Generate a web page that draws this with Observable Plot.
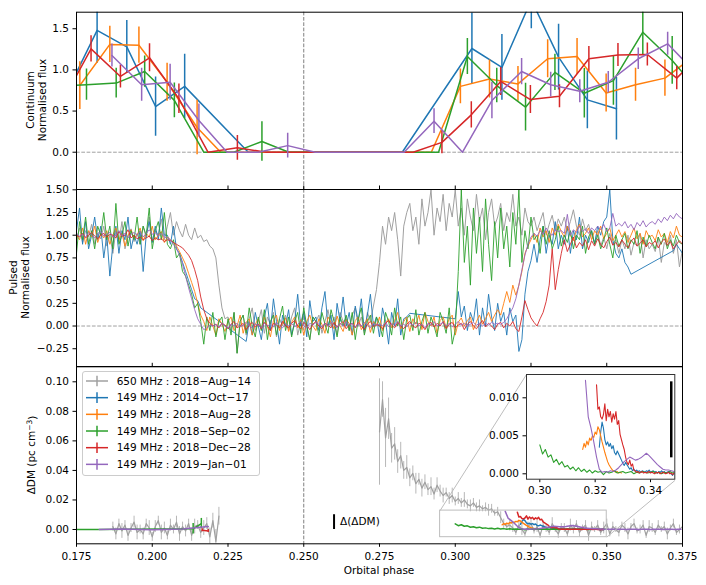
<!DOCTYPE html>
<html><head><meta charset="utf-8">
<script src="https://cdn.jsdelivr.net/npm/d3@7"></script>
<script src="https://cdn.jsdelivr.net/npm/@observablehq/plot@0.6"></script>
<style>
body{margin:0;background:#fff;}
#fig{position:relative;width:706px;height:585px;overflow:hidden;font-family:"DejaVu Sans",sans-serif;}
#fig svg{position:absolute;overflow:visible;}
</style></head><body><div id="fig"></div>
<script>
// ---------- names, colours, ticks ----------
const seriesNames = ["650 MHz : 2018\u2212Aug\u221214", "149 MHz : 2014\u2212Oct\u221217", "149 MHz : 2018\u2212Aug\u221228", "149 MHz : 2018\u2212Sep\u221202", "149 MHz : 2018\u2212Dec\u221228", "149 MHz : 2019\u2212Jan\u221201"];
const seriesColors = ["#a0a0a0", "#1f77b4", "#ff7f0e", "#2ca02c", "#d62728", "#9467bd"];
const xDomain = [0.175, 0.375];
const xTicks = [0.175, 0.2, 0.225, 0.25, 0.275, 0.3, 0.325, 0.35, 0.375];
const contYTicks = [0, 0.5, 1, 1.5];
const pulsedYTicks = [-0.25, 0, 0.25, 0.5, 0.75, 1, 1.25, 1.5];
const dmYTicks = [0, 0.02, 0.04, 0.06, 0.08, 0.10];
const insetXTicks = [0.30, 0.32, 0.34];
const insetYTicks = [0, 0.005, 0.010];
const eclipseCentre = 0.25;
const dDMBar = 0.01;

// ---------- continuum (top) ----------
const contBluePhase = [0.1721,0.1818,0.1916,0.2011,0.2107,0.2317,0.2825,0.3055,0.3154,0.3251,0.3341,0.3436,0.3532];
const contBlueFlux  = [0.75,1.48,1.28,0.555,0.80,0,0,1.26,1.03,1.85,1.155,0.636,0.527];
const contBlueErr   = [0,0.40,0.32,0.36,0.39,0,0,0.43,0.40,0.35,0.40,0.35,0.38];
const contOrangePhase = [0.1761,0.1860,0.1956,0.2049,0.2148,0.2226,0.2921,0.3017,0.3113,0.3207,0.3305,0.3402,0.3498,0.3595,0.3692,0.3789];
const contOrangeFlux  = [0.81,1.31,1.30,0.85,0.30,0,0,0.80,0.89,0.83,1.135,1.163,0.72,0.82,0.90,1.17];
const contOrangeErr   = [0.29,0.22,0.22,0.23,0.33,0,0,0.21,0.23,0.21,0.23,0.22,0.23,0.20,0.22,0.20];
const contGreenPhase = [0.1686,0.1783,0.1881,0.1975,0.2073,0.2170,0.2269,0.2362,0.2451,0.2945,0.3040,0.3137,0.3232,0.3329,0.3426,0.3522,0.3619,0.3716,0.3813];
const contGreenFlux  = [0.80,0.82,0.84,0.98,0.63,0,0,0.13,0,0,1.163,0.81,0.547,0.97,0.717,0.87,1.458,1.115,0.70];
const contGreenErr   = [0.20,0.19,0.18,0.19,0.21,0,0,0.24,0,0,0.22,0.21,0.29,0.22,0.30,0.30,0.27,0.29,0.20];
const contRedPhase = [0.1701,0.1798,0.1895,0.1991,0.2088,0.2184,0.2281,0.2377,0.2861,0.2956,0.3053,0.3150,0.3248,0.3344,0.3441,0.3537,0.3634,0.3731,0.3828];
const contRedFlux  = [0.60,1.256,0.92,1.147,0.65,0,0.053,0,0,0.12,0.454,0.86,0.64,0.68,1.135,1.18,1.187,0.90,1.26];
const contRedErr   = [0.15,0.16,0.14,0.17,0.18,0,0.15,0,0,0.14,0.16,0.17,0.17,0.14,0.15,0.14,0.14,0.14,0.15];
const contPurplePhase = [0.1867,0.1965,0.2059,0.2154,0.2247,0.2350,0.2447,0.2538,0.2831,0.2930,0.3024,0.3121,0.3219,0.3315,0.3411,0.3505,0.3604,0.3701,0.3798];
const contPurpleFlux  = [1.175,0.82,0.85,0.385,0,0,0.08,0,0,0.377,0,0.628,0.98,0.82,0.74,0.85,1.135,1.317,0.95];
const contPurpleErr   = [0.14,0.20,0.22,0.20,0,0,0.15,0,0,0.15,0,0.22,0.16,0.15,0.14,0.13,0.13,0.14,0.15];

// ---------- pulsed (middle), sampled from phase 0.175 every 0.001 ----------
const pulsedStart = 0.175, pulsedStep = 0.001;
const pulsedGray = [
0.95,1.08,0.92,1.05,0.98,1.12,0.90,1.02,0.96,1.10,
0.88,1.00,0.80,1.05,0.92,1.15,0.85,0.98,1.07,0.93,
1.02,0.90,1.10,0.97,1.20,0.94,1.05,1.00,1.18,0.95,
1.10,1.25,1.00,1.15,1.05,0.98,1.12,1.00,0.95,1.08,
0.97,1.00,0.93,0.95,0.88,0.85,0.75,0.45,0.20,0.08,
0.10,-0.05,0.15,-0.30,0.05,0.12,-0.10,0.08,0.20,-0.05,
0.05,0.18,-0.08,0.10,0.02,0.15,-0.12,0.08,0.00,0.12,
-0.05,0.10,0.20,-0.10,0.05,0.15,0.00,-0.15,0.10,0.05,
0.12,-0.08,0.05,0.18,0.00,0.10,-0.10,0.15,0.05,0.08,
-0.05,0.12,0.20,0.00,0.10,-0.08,0.15,0.05,0.22,0.40,
0.70,1.10,0.90,1.20,1.05,1.25,0.95,0.55,1.10,1.25,
1.35,1.05,1.20,0.90,1.40,1.10,1.25,1.50,1.00,1.30,
1.15,1.45,1.05,1.35,1.20,1.50,1.10,1.30,1.00,1.40,
1.20,1.05,1.45,1.15,1.30,0.95,1.25,1.40,1.10,1.20,
1.35,1.05,1.25,1.15,1.45,1.10,1.20,1.00,1.30,1.15,
1.10,1.20,1.05,1.15,1.25,1.00,1.12,1.22,1.05,1.18,
1.10,1.20,1.05,1.15,1.28,1.10,1.00,1.18,1.05,1.12,
1.00,0.92,1.05,0.88,0.98,0.85,1.02,0.90,0.95,0.80,
0.95,0.85,1.00,0.78,0.92,0.88,1.02,0.75,0.95,0.85,
0.90,0.82,0.98,0.70,0.92,0.88,1.00,0.80,0.95,0.65,
0.85];
const pulsedBlue = [
1.05,1.30,0.90,1.15,0.85,1.00,1.20,0.95,1.10,0.75,
1.00,0.55,0.90,1.10,0.80,1.05,0.95,1.20,0.85,1.00,
0.90,1.05,0.60,1.00,1.15,0.92,1.10,0.95,1.30,1.00,
1.00,0.90,1.10,0.85,0.80,0.70,0.60,0.50,0.40,0.30,
0.28,0.20,null,null,null,null,null,null,null,null,
null,null,null,null,null,null,-0.17,0.05,-0.10,0.15,
0.00,-0.15,0.10,0.25,-0.05,0.30,0.05,-0.20,0.12,0.00,
0.18,-0.10,0.05,0.35,0.00,0.15,-0.12,0.28,0.05,0.10,
-0.05,0.20,0.38,0.00,0.12,-0.15,0.25,0.05,0.32,0.00,
0.15,-0.10,0.22,0.05,0.30,-0.05,0.12,0.35,0.00,0.10,
-0.12,0.20,0.05,-0.20,0.15,0.00,0.30,-0.10,0.08,0.10,
0.14,null,null,null,null,null,null,null,null,null,
null,null,null,null,null,0.08,0.38,0.10,0.22,-0.05,
0.15,0.05,0.30,-0.10,0.20,0.00,0.35,0.10,-0.05,0.25,
0.05,0.15,-0.10,0.20,0.05,0.12,-0.28,-0.15,0.35,0.60,
0.72,0.90,0.70,0.95,1.10,0.80,1.00,0.90,1.15,0.85,
1.00,0.90,1.10,0.80,1.05,0.95,1.20,0.85,1.00,0.92,
1.05,0.90,1.10,1.00,1.15,1.20,1.50,0.95,0.80,0.75,
0.85,0.70,0.65,0.57,null,null,null,null,null,null,
null,null,null,null,null,null,null,0.83,0.90,0.85,
0.80];
const pulsedOrange = [
1.00,0.95,1.08,0.90,1.05,0.98,1.10,0.92,1.02,0.97,
1.05,0.90,1.00,1.08,0.95,1.02,0.88,1.00,1.06,0.96,
1.00,1.08,0.94,1.02,0.98,1.10,0.95,1.00,1.04,0.92,
0.98,0.95,0.92,0.88,0.82,0.75,0.68,0.58,0.48,0.38,
0.25,0.12,0.05,-0.05,0.10,0.00,-0.10,0.08,0.02,-0.06,
0.05,0.10,-0.05,0.00,0.12,-0.08,0.04,0.08,-0.10,0.02,
0.08,-0.04,0.10,0.00,-0.12,0.06,0.12,-0.05,0.03,0.09,
-0.06,0.04,0.10,-0.02,0.07,-0.10,0.05,0.12,0.00,-0.05,
0.08,0.02,-0.08,0.10,0.04,-0.03,0.11,0.00,-0.06,0.07,
0.03,-0.10,0.06,0.10,-0.04,0.02,0.08,-0.07,0.05,0.00,
0.10,-0.05,0.04,0.08,-0.02,0.06,0.15,-0.03,0.05,0.10,
-0.06,0.08,0.02,0.12,-0.04,0.15,0.05,0.00,0.10,-0.08,
0.06,0.10,-0.02,0.08,0.12,-0.10,0.04,0.09,0.00,0.06,
0.10,-0.04,0.05,0.12,0.02,0.08,0.15,0.05,0.12,0.18,
0.12,0.25,0.38,0.26,0.45,0.34,0.45,0.60,0.80,0.88,
0.95,1.02,0.92,1.08,0.98,1.05,0.92,1.08,1.00,1.12,
1.04,0.98,1.10,1.00,0.94,1.06,1.12,0.98,1.02,1.08,
0.95,1.05,1.00,1.10,0.96,1.02,1.08,0.94,1.00,1.06,
0.98,1.04,0.92,1.00,1.08,0.96,1.02,0.90,1.05,0.98,
1.00,0.94,1.06,0.98,1.02,0.92,1.04,0.97,1.10,1.00,
0.98];
const pulsedGreen = [
0.80,1.15,0.95,1.20,0.90,1.05,0.85,1.10,1.00,1.25,
0.95,1.10,0.85,1.35,0.90,1.00,1.15,0.88,1.05,0.95,
1.20,0.90,1.10,1.00,1.30,0.85,1.05,1.15,0.95,1.25,
0.90,0.85,0.95,0.75,0.80,0.60,0.55,0.45,0.35,0.20,
0.25,0.05,-0.20,0.10,-0.05,0.15,-0.12,0.05,0.10,-0.15,
0.08,-0.10,0.15,-0.30,0.05,0.12,-0.08,0.20,0.00,-0.12,
0.10,-0.05,0.18,-0.15,0.05,0.12,-0.10,0.08,0.22,-0.05,
0.10,-0.12,0.05,0.15,-0.08,0.20,0.00,-0.15,0.10,0.05,
-0.10,0.15,0.02,-0.08,0.18,0.05,-0.12,0.10,0.00,0.12,
-0.05,0.15,-0.15,0.08,0.20,-0.10,0.05,0.12,-0.08,0.10,
0.02,-0.12,0.15,0.05,-0.10,0.20,0.00,0.10,-0.15,0.08,
0.12,-0.05,0.18,-0.10,0.05,0.15,-0.08,0.10,0.00,-0.12,
0.15,0.05,-0.08,0.20,-0.20,-0.05,0.60,1.50,0.70,1.10,
0.45,1.30,0.80,1.20,0.60,1.40,0.90,0.50,1.15,0.75,
1.30,0.85,1.10,0.65,1.25,0.90,1.50,0.70,1.05,0.85,
1.20,0.95,1.00,0.80,1.10,0.90,1.05,0.85,0.95,1.10,
0.88,1.00,0.92,1.05,0.85,1.00,0.95,1.10,0.80,0.98,
1.05,0.90,1.00,0.85,0.95,1.08,0.90,0.75,1.00,0.88,
0.95,1.02,0.85,0.95,0.90,1.05,0.80,0.98,0.88,1.00,
0.92,0.85,0.98,0.90,1.02,0.85,0.95,0.88,1.00,0.92,
0.90];
const pulsedRed = [
1.00,0.98,1.02,0.97,1.00,1.03,0.99,0.96,1.00,1.02,
0.98,1.01,1.00,0.97,1.04,0.99,1.00,1.06,0.97,1.00,
0.96,0.98,0.95,0.97,0.99,0.94,0.97,0.95,0.96,0.93,
0.95,0.94,0.92,0.90,0.88,0.86,0.82,0.78,0.72,0.62,
0.50,0.32,0.18,0.08,0.03,0.00,0.02,-0.02,0.03,0.01,
-0.03,0.02,0.05,-0.02,0.00,0.03,-0.04,0.01,0.04,-0.01,
0.02,-0.03,0.04,0.00,-0.05,0.03,0.01,-0.02,0.05,0.00,
-0.02,0.03,0.06,0.00,-0.03,0.04,0.01,-0.04,0.02,0.05,
0.00,-0.03,0.03,0.01,-0.02,0.04,-0.01,0.02,0.05,-0.03,
0.01,0.03,-0.02,0.04,0.00,-0.04,0.02,0.05,-0.01,0.02,
0.00,-0.03,0.03,0.06,0.01,-0.02,0.04,0.00,-0.03,0.02,
0.05,0.00,-0.02,0.03,0.01,-0.04,0.02,0.04,-0.01,0.03,
0.00,0.05,-0.03,0.02,0.04,-0.02,0.01,0.03,-0.04,0.02,
0.05,0.00,-0.03,0.02,0.06,-0.01,0.03,0.00,-0.04,0.02,
0.04,-0.02,0.03,0.00,0.05,-0.03,-0.06,0.10,0.28,0.18,
0.09,0.04,0.00,0.08,0.15,0.27,0.45,0.85,0.40,0.62,
0.80,0.95,0.82,0.90,0.98,0.86,0.92,0.88,0.95,0.84,
0.94,0.88,0.96,0.90,0.86,0.93,0.98,0.89,0.92,0.87,
0.95,0.90,0.86,0.93,0.97,0.88,0.91,0.95,0.87,0.92,
0.90,0.94,0.86,0.92,0.96,0.89,0.93,0.85,0.90,0.94,
0.90];
const pulsedPurple = [
1.02,0.99,1.01,0.98,1.03,1.00,0.97,1.02,1.04,0.99,
1.01,1.03,0.98,1.00,1.05,0.99,1.02,0.97,1.01,1.03,
1.00,1.04,0.98,1.02,1.06,1.01,1.03,0.99,1.02,0.98,
0.97,0.95,0.90,0.85,0.78,0.68,0.55,0.42,0.30,0.18,
0.08,0.02,-0.04,-0.02,0.01,0.00,0.02,-0.01,0.03,0.00,
-0.02,0.02,0.00,0.03,-0.01,0.01,0.04,0.00,-0.02,0.02,
0.01,-0.02,0.03,0.00,0.02,-0.01,0.04,0.01,-0.02,0.02,
0.00,0.03,-0.01,0.02,0.05,0.00,-0.02,0.03,0.01,0.04,
0.02,-0.01,0.03,0.00,0.04,0.01,-0.02,0.03,0.00,0.05,
0.01,0.03,-0.01,0.02,0.00,0.04,0.01,-0.02,0.03,0.01,
0.02,0.00,0.04,-0.01,0.03,0.01,0.05,0.00,0.02,-0.01,
0.03,0.01,0.04,0.00,0.02,-0.02,0.03,0.01,0.05,0.00,
0.02,0.04,0.00,0.03,-0.01,0.02,0.05,0.01,0.03,0.00,
0.02,0.04,0.01,0.03,0.00,0.03,0.01,0.04,0.02,0.03,
0.02,0.04,0.08,0.14,0.20,0.30,0.45,0.62,0.78,0.90,
0.98,1.02,0.99,1.05,1.01,1.08,1.02,1.00,1.06,1.04,
1.05,1.02,1.23,1.00,1.06,1.03,1.10,1.04,1.07,1.02,
1.08,1.05,1.10,1.06,1.12,1.04,1.08,1.24,1.10,1.13,
1.10,1.15,1.08,1.12,1.06,1.14,1.10,1.16,1.09,1.13,
1.15,1.12,1.18,1.14,1.20,1.16,1.22,1.18,1.24,1.20,
1.18];

// ---------- ΔDM (bottom) ----------
const dmGrayLeftStart = 0.187, dmGrayRightStart = 0.275, dmGrayStep = 0.001;
const dmGrayLeft = [
0.002,-0.003,0.004,-0.001,0.003,-0.004,0.001,0.005,-0.002,0.000,
-0.003,0.004,0.001,-0.005,0.002,0.006,-0.002,0.001,-0.004,0.003,
0.000,0.005,-0.003,0.002,-0.001,0.004,-0.004,0.002,0.003,-0.002,
0.001,0.004,-0.005,0.006,-0.008,0.009];
const dmGrayLeftErr = [
0.003,0.004,0.003,0.005,0.003,0.004,0.003,0.004,0.005,0.003,
0.004,0.003,0.005,0.003,0.004,0.003,0.005,0.004,0.003,0.004,
0.003,0.004,0.005,0.003,0.004,0.003,0.004,0.005,0.003,0.004,
0.005,0.004,0.006,0.005,0.008,0.006];
const dmGrayRight = [
0.066,0.088,0.062,0.075,0.055,0.058,0.046,0.050,0.040,0.042,
0.035,0.038,0.031,0.034,0.028,0.032,0.027,0.029,0.024,0.030,
0.026,0.023,0.025,0.021,0.023,0.019,0.021,0.018,0.020,0.017,
0.016,0.018,0.015,0.016,0.014,0.015,0.013,0.014,0.011,0.012,
0.008,0.004,0.002,0.003,0.001,-0.002,0.003,0.000,-0.003,0.002,
0.004,-0.001,0.002,-0.004,0.003,0.001,-0.002,0.004,0.000,-0.003,
0.002,0.001,-0.003,0.003,0.000,0.004,-0.002,0.001,0.003,-0.004,
0.002,0.000,0.003,-0.002,0.001,0.004,-0.003,0.002,0.000,-0.002,
0.003,0.001,-0.003,0.002,0.004,-0.001,0.000,0.003,-0.004,0.002,
0.001,-0.002,0.003,0.000,0.002,-0.003,0.001,0.004,-0.002,0.000,
0.002];
const dmGrayRightErr = [
0.036,0.012,0.020,0.014,0.010,0.011,0.008,0.009,0.006,0.008,
0.006,0.005,0.007,0.004,0.006,0.005,0.004,0.006,0.004,0.005,
0.004,0.005,0.003,0.004,0.005,0.003,0.004,0.003,0.005,0.003,
0.004,0.003,0.003,0.004,0.002,0.003,0.004,0.003,0.002,0.003,
0.004,0.003,0.002,0.004,0.003,0.002,0.003,0.004,0.002,0.003,
0.003,0.002,0.004,0.002,0.003,0.003,0.002,0.004,0.002,0.003,
0.002,0.003,0.002,0.004,0.003,0.002,0.003,0.002,0.003,0.004,
0.003,0.002,0.003,0.002,0.004,0.003,0.002,0.003,0.002,0.003,
0.002,0.003,0.004,0.002,0.003,0.002,0.003,0.003,0.002,0.004,
0.003,0.002,0.003,0.002,0.003,0.004,0.002,0.003,0.002,0.003,
0.003];
// early (pre-eclipse) 149 MHz ΔDM points
const dmEarlyGreenPhase = [0.175,0.1785,0.182,0.2135,0.2162];
const dmEarlyGreen      = [0,0,0,0.0005,0.004];
const dmEarlyGreenErr   = [0,0,0,0.0035,0.0035];
const dmEarlyPurplePhase = [0.1825,0.19,0.2,0.21,0.2185];
const dmEarlyPurple      = [0,0.0003,-0.0002,0.0004,0.002];
const dmEarlyRedPhase = [0.2165,0.2185];
const dmEarlyRed      = [-0.0005,-0.001];
const dmEarlyRedErr   = [0.001,0.001];
// egress 149 MHz ΔDM
const dmGreenStart = 0.300, dmGreenStep = 0.001;
const dmGreen = [
0.0038,0.0026,0.0032,0.0022,0.0025,0.0015,0.0019,0.0012,0.0016,0.0009,
0.0011,0.0006,0.0009,0.0004,0.0008,0.0003,0.0006,0.0002,0.0005,0.0001,
0.0004,0.0002,0.0003,-0.0001,0.0003,0.0001,0.0002,0.0004,0.0001,0.0002,
0.0003,0.0001,0.0002,0.0003,0.0000,0.0002,0.0001,0.0003,0.0002,0.0001,
0.0002,0.0003,0.0001,0.0002,0.0000,0.0002,0.0001,0.0003,0.0001,0.0002,
0.0001];
const dmOrangeStart = 0.3155, dmOrangeStep = 0.0005;
const dmOrange = [
0.0032,0.0040,0.0035,0.0043,0.0038,0.0047,0.0044,0.0050,0.0048,0.0055,
0.0052,0.0062,0.0058,0.0050,0.0042,0.0035,0.0028,0.0022,0.0016,0.0012,
0.0009,0.0006,0.0004,0.0003,0.0002,0.0003,0.0001,0.0002,0.0001];
const dmRedStart = 0.3205, dmRedStep = 0.0005;
const dmRed = [
0.0117,0.0085,0.0088,0.0075,0.0072,0.0078,0.0092,0.0070,0.0085,0.0075,
0.0082,0.0068,0.0079,0.0072,0.0082,0.0065,0.0070,0.0052,0.0045,0.0038,
0.0032,0.0022,0.0015,0.0012,0.0018,0.0010,0.0013,0.0005,0.0004,0.0002,
0.0003,0.0001,0.0002,0.0003,0.0001,0.0002,0.0001,0.0002,0.0003,0.0001,
0.0002,0.0001,0.0000,0.0002,0.0001,0.0002,0.0000,0.0001,0.0002,0.0001,
0.0000,0.0001,0.0002,0.0000,0.0001,-0.0001,0.0001,0.0000];
const dmBlueStart = 0.3215, dmBlueStep = 0.0005;
const dmBlue = [
0.0035,0.0055,0.0068,0.0060,0.0045,0.0038,0.0042,0.0036,0.0040,0.0033,
0.0037,0.0028,0.0025,0.0030,0.0026,0.0022,0.0018,0.0014,0.0011,0.0015,
0.0012,0.0009,0.0006,0.0008,0.0004,0.0006,0.0003,0.0005,0.0003,0.0004,
0.0002,0.0004,0.0003,0.0002,0.0004,0.0003,0.0005,0.0002,0.0003,0.0004,
0.0002,0.0003,0.0001,0.0003,0.0002,0.0004,0.0002,0.0003,0.0001,0.0002,
0.0003,0.0001,0.0000,-0.0002,0.0001,-0.0001];
const dmPurpleStart = 0.3165, dmPurpleStep = 0.001;
const dmPurple = [
0.0123,0.0075,0.0060,0.0042,0.0022,0.0006,0.0002,0.0003,0.0002,0.0004,
0.0003,0.0005,0.0008,0.0012,0.0016,0.0019,0.0022,0.0020,0.0018,0.0019,
0.0021,0.0024,0.0027,0.0024,0.0020,0.0016,0.0012,0.0009,0.0006,0.0005,
0.0005,0.0004,0.0003,0.0002,0.0002,0.0001,0.0002,0.0001,0.0002,0.0001,
0.0000,0.0001,0.0002,0.0001,0.0000,0.0001,0.0002,0.0001,0.0000,0.0001,
0.0002,0.0001,0.0000,0.0001,0.0002,0.0001,0.0000,0.0001,0.0001];

// zoom indicator (data coords of the main ΔDM panel) and inset limits
const zoomBox = [{x1: 0.295, x2: 0.35, y1: -0.0052, y2: 0.0128}];
const zoomLinks = [{x1: 0.295, y1: 0.0128, x2: 0.3235, y2: 0.1049}, {x1: 0.35, y1: -0.0052, x2: 0.3725, y2: 0.0332}];
const insetXDomain = [0.29519, 0.34878];
const insetYDomain = [-0.00071, 0.013066];
const barMain = [{x: 0.26, y1: 0, y2: dDMBar}];
const barInset = [{x: 0.3475, y1: 0.0021, y2: 0.0021 + dDMBar}];

// ---------- helpers ----------
const FONT = '"DejaVu Sans", sans-serif';
const style = {fontFamily: FONT, fontSize: "10.5px", background: "transparent", color: "black", overflow: "visible"};
const fig = document.getElementById("fig");
function place(svg, top, left) { svg.style.top = top + "px"; svg.style.left = left + "px"; fig.appendChild(svg); }
const grid = (start, step, vals, errs) => vals.map((v, i) => ({phase: start + i * step, value: v, err: errs ? errs[i] : 0})).filter(d => d.value !== null);
const zipS = (ph, vals, errs) => ph.map((p, i) => ({phase: p, value: vals[i], err: errs ? errs[i] : 0}));
const dashV = Plot.ruleX([eclipseCentre], {stroke: "#7f7f7f", strokeDasharray: "3.7,1.6", strokeWidth: 1});
const dashH = Plot.ruleY([0], {stroke: "#a0a0a0", strokeDasharray: "3.7,1.6", strokeWidth: 1});
const L = 76, Rm = 24, W = 706, PH = 177.3;

// ---------- panel 1: continuum ----------
const contSeries = [
  [zipS(contBluePhase, contBlueFlux, contBlueErr), 1],
  [zipS(contOrangePhase, contOrangeFlux, contOrangeErr), 2],
  [zipS(contGreenPhase, contGreenFlux, contGreenErr), 3],
  [zipS(contRedPhase, contRedFlux, contRedErr), 4],
  [zipS(contPurplePhase, contPurpleFlux, contPurpleErr), 5]
];
const p1marks = [dashH, dashV];
for (const [data, ci] of contSeries) {
  p1marks.push(Plot.line(data, {x: "phase", y: "value", stroke: seriesColors[ci], strokeWidth: 1.5, clip: true}));
  p1marks.push(Plot.ruleX(data.filter(d => d.err > 0), {x: "phase", y1: d => d.value - d.err, y2: d => d.value + d.err, stroke: seriesColors[ci], strokeWidth: 1.5, clip: true}));
}
p1marks.push(Plot.tickX(xTicks, {x: d => d, insetTop: PH - 3.5, stroke: "black", strokeWidth: 1}));
p1marks.push(Plot.frame({stroke: "black", strokeWidth: 1}));
const p1 = Plot.plot({
  width: W, height: 189, marginLeft: L, marginRight: Rm, marginTop: 11.7, marginBottom: 0, style,
  x: {domain: xDomain, axis: null},
  y: {domain: [-0.453, 1.701], ticks: contYTicks, tickFormat: d3.format(".1f"), tickSize: 3.5, tickPadding: 4, label: null},
  marks: p1marks
});
place(p1, 0, 0);

// ---------- panel 2: pulsed ----------
const pulsedSeries = [[pulsedGray, 0], [pulsedBlue, 1], [pulsedOrange, 2], [pulsedGreen, 3], [pulsedRed, 4], [pulsedPurple, 5]];
const p2marks = [dashH, dashV];
for (const [vals, ci] of pulsedSeries) {
  p2marks.push(Plot.line(grid(pulsedStart, pulsedStep, vals), {x: "phase", y: "value", stroke: seriesColors[ci], strokeWidth: 1, strokeOpacity: ci === 0 ? 1 : 0.9, clip: true}));
}
p2marks.push(Plot.tickX(xTicks, {x: d => d, insetTop: PH - 3.5, stroke: "black", strokeWidth: 1}));
p2marks.push(Plot.frame({stroke: "black", strokeWidth: 1}));
const p2 = Plot.plot({
  width: W, height: PH, marginLeft: L, marginRight: Rm, marginTop: 0, marginBottom: 0, style,
  x: {domain: xDomain, axis: null},
  y: {domain: [-0.449, 1.5033], ticks: pulsedYTicks, tickFormat: d3.format(".2f"), tickSize: 3.5, tickPadding: 4, label: null},
  marks: p2marks
});
place(p2, 189, 0);

// ---------- panel 3: ΔDM ----------
const grayL = grid(dmGrayLeftStart, dmGrayStep, dmGrayLeft, dmGrayLeftErr);
const grayR = grid(dmGrayRightStart, dmGrayStep, dmGrayRight, dmGrayRightErr);
const lateSeries = [
  [grid(dmBlueStart, dmBlueStep, dmBlue), 1],
  [grid(dmOrangeStart, dmOrangeStep, dmOrange), 2],
  [grid(dmGreenStart, dmGreenStep, dmGreen), 3],
  [grid(dmRedStart, dmRedStep, dmRed), 4],
  [grid(dmPurpleStart, dmPurpleStep, dmPurple), 5]
];
const earlySeries = [
  [zipS(dmEarlyGreenPhase, dmEarlyGreen, dmEarlyGreenErr), 3],
  [zipS(dmEarlyRedPhase, dmEarlyRed, dmEarlyRedErr), 4],
  [zipS(dmEarlyPurplePhase, dmEarlyPurple), 5]
];
const p3marks = [dashV];
for (const g of [grayL, grayR]) {
  p3marks.push(Plot.ruleX(g, {x: "phase", y1: d => d.value - d.err, y2: d => d.value + d.err, stroke: seriesColors[0], strokeWidth: 0.9, strokeOpacity: 0.85, clip: true}));
  p3marks.push(Plot.line(g, {x: "phase", y: "value", stroke: seriesColors[0], strokeWidth: 1.2, clip: true}));
}
for (const [data, ci] of earlySeries) {
  p3marks.push(Plot.line(data, {x: "phase", y: "value", stroke: seriesColors[ci], strokeWidth: 1.5, clip: true}));
  p3marks.push(Plot.ruleX(data.filter(d => d.err > 0), {x: "phase", y1: d => d.value - d.err, y2: d => d.value + d.err, stroke: seriesColors[ci], strokeWidth: 1.5}));
}
for (const [data, ci] of lateSeries) {
  p3marks.push(Plot.line(data, {x: "phase", y: "value", stroke: seriesColors[ci], strokeWidth: 1.5, clip: true}));
}
p3marks.push(Plot.rect(zoomBox, {x1: "x1", x2: "x2", y1: "y1", y2: "y2", fill: "none", stroke: "#bdbdbd", strokeWidth: 1}));
p3marks.push(Plot.link(zoomLinks, {x1: "x1", y1: "y1", x2: "x2", y2: "y2", stroke: "#bdbdbd", strokeWidth: 1}));
p3marks.push(Plot.ruleX(barMain, {x: "x", y1: "y1", y2: "y2", stroke: "black", strokeWidth: 2}));
p3marks.push(Plot.text(barMain, {x: "x", y: d => (d.y1 + d.y2) / 2, text: () => "\u0394(\u0394DM)", textAnchor: "start", dx: 6, fontSize: 10.5}));
p3marks.push(Plot.frame({stroke: "black", strokeWidth: 1}));
const p3 = Plot.plot({
  width: W, height: 219, marginLeft: L, marginRight: Rm, marginTop: 0, marginBottom: 219 - PH, style,
  x: {domain: xDomain, ticks: xTicks, tickFormat: d3.format(".3f"), tickSize: 3.5, tickPadding: 5, label: null},
  y: {domain: [-0.00968, 0.11036], ticks: dmYTicks, tickFormat: d3.format(".2f"), tickSize: 3.5, tickPadding: 4, label: null},
  marks: p3marks
});
place(p3, 366, 0);

// ---------- inset ----------
const insetMarks = [Plot.frame({fill: "white", stroke: null})];
for (const [data, ci] of lateSeries) {
  insetMarks.push(Plot.line(data, {x: "phase", y: "value", stroke: seriesColors[ci], strokeWidth: 1.1, clip: true}));
}
insetMarks.push(Plot.ruleX(barInset, {x: "x", y1: "y1", y2: "y2", stroke: "black", strokeWidth: 2.5}));
insetMarks.push(Plot.frame({stroke: "#333", strokeWidth: 1}));
const inset = Plot.plot({
  width: 215, height: 140, marginLeft: 60, marginRight: 6.7, marginTop: 14, marginBottom: 21.3, style,
  x: {domain: insetXDomain, ticks: insetXTicks, tickFormat: d3.format(".2f"), tickSize: 3.5, tickPadding: 4, label: null},
  y: {domain: insetYDomain, ticks: insetYTicks, tickFormat: d3.format(".3f"), tickSize: 3.5, tickPadding: 4, label: null},
  marks: insetMarks
});
place(inset, 360, 466);

// ---------- overlay: axis titles and legend ----------
const ov = d3.create("svg").attr("width", 706).attr("height", 585)
  .style("font-family", FONT).style("font-size", "10.5px").style("pointer-events", "none");
function vlabel(x, y, txt) {
  return ov.append("text").attr("transform", `translate(${x},${y}) rotate(-90)`).attr("text-anchor", "middle").attr("fill", "black").text(txt);
}
vlabel(33.5, 100, "Continuum");
vlabel(45.5, 100, "Normalised flux");
vlabel(16.7, 277.5, "Pulsed");
vlabel(29.3, 277.5, "Normalised flux");
const dmLab = ov.append("text").attr("transform", "translate(35,455) rotate(-90)").attr("text-anchor", "middle").attr("fill", "black");
dmLab.append("tspan").text("\u0394DM (pc cm");
dmLab.append("tspan").attr("dy", "-0.45em").attr("font-size", "7.5px").text("\u22123");
dmLab.append("tspan").attr("dy", "0.45em").text(")");
ov.append("text").attr("x", 379).attr("y", 574).attr("text-anchor", "middle").attr("fill", "black").text("Orbital phase");
const lg = ov.append("g");
lg.append("rect").attr("x", 82.5).attr("y", 371.5).attr("width", 177).attr("height", 104).attr("rx", 2.5)
  .attr("fill", "white").attr("fill-opacity", 0.8).attr("stroke", "#cccccc");
seriesNames.forEach((name, i) => {
  const y = 381 + i * 16.67;
  lg.append("line").attr("x1", 86).attr("x2", 108).attr("y1", y).attr("y2", y).attr("stroke", seriesColors[i]).attr("stroke-width", 1.5);
  lg.append("line").attr("x1", 97).attr("x2", 97).attr("y1", y - 5.3).attr("y2", y + 5.3).attr("stroke", seriesColors[i]).attr("stroke-width", 1.5);
  lg.append("text").attr("x", 116.7).attr("y", y).attr("dy", "0.35em").attr("fill", "black").text(name);
});
const ovNode = ov.node();
place(ovNode, 0, 0);
</script></body></html>
